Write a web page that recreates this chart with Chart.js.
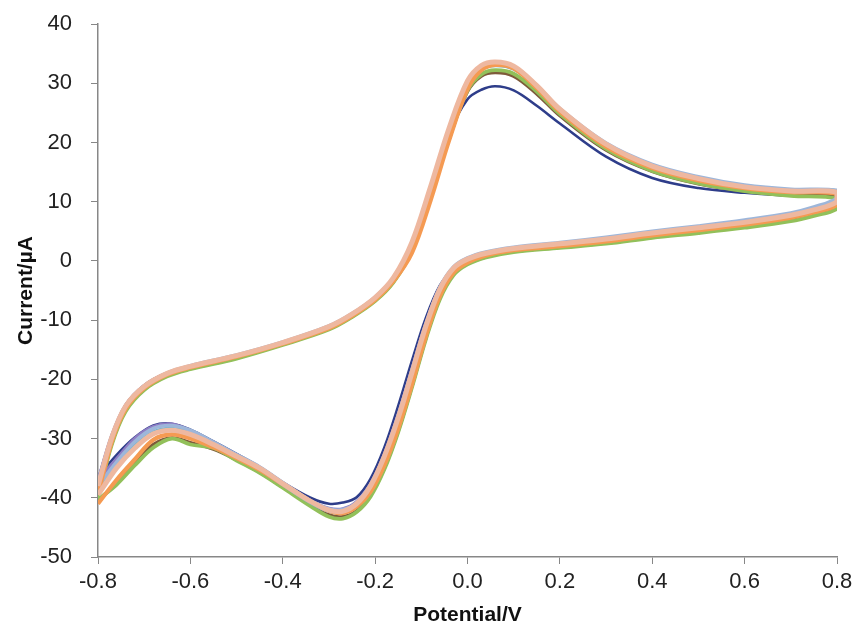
<!DOCTYPE html>
<html>
<head>
<meta charset="utf-8">
<script src="https://cdn.jsdelivr.net/npm/chart.js@4/dist/chart.umd.min.js"></script>
<style>
html,body{margin:0;padding:0;background:#fff;}
#wrap{width:861px;height:643px;position:relative;}
</style>
</head>
<body>
<div id="wrap"><canvas id="c" width="861" height="643"></canvas></div>
<script>
// Potential (V): forward scan then reverse scan
const potential = [
  -0.8, -0.77, -0.74, -0.7, -0.65, -0.6, -0.5, -0.4, -0.3, -0.25, -0.2, -0.16, -0.12, -0.08, -0.04, 0.0, 0.03, 0.06, 0.1, 0.15, 0.2, 0.3, 0.4, 0.5, 0.6, 0.7, 0.8,
  0.8, 0.75, 0.7, 0.6, 0.5, 0.4, 0.3, 0.2, 0.1, 0.04, 0.0, -0.03, -0.06, -0.09, -0.12, -0.15, -0.18, -0.21, -0.24, -0.27, -0.3, -0.34, -0.4, -0.45, -0.5, -0.55, -0.6, -0.64, -0.68, -0.72, -0.76, -0.8
];

// Current (µA) for each scan
const scanNavy = [
  -37.0, -29.5, -24.3, -21.0, -18.9, -17.8, -16.1, -13.9, -11.3, -9.2, -6.4, -3.0, 2.8, 12.0, 21.5, 27.3, 28.9, 29.5, 28.8, 26.2, 23.2, 17.6, 14.0, 12.3, 11.5, 11.0, 10.9,
  9.8, 8.4, 7.5, 6.3, 5.4, 4.5, 3.5, 2.7, 2.0, 1.2, 0.2, -1.3, -4.2, -9.6, -16.8, -24.5, -31.5, -36.8, -39.9, -40.8, -41.0, -40.0, -37.4, -34.8, -32.6, -30.5, -28.5, -27.5, -27.8, -29.8, -32.8, -36.5
];
const scanBrown = [
  -39.5, -30.8, -25.2, -21.7, -19.4, -18.2, -16.4, -14.1, -11.5, -9.4, -6.7, -3.5, 1.9, 10.9, 20.7, 28.6, 31.2, 31.8, 31.2, 28.2, 24.5, 18.7, 15.1, 13.0, 11.8, 11.1, 10.8,
  9.0, 7.8, 6.9, 5.8, 4.9, 4.0, 3.0, 2.3, 1.6, 0.7, -0.5, -2.2, -6.3, -13.0, -21.1, -28.7, -35.0, -39.6, -42.2, -43.2, -42.9, -41.2, -38.2, -35.7, -33.6, -31.8, -30.7, -29.9, -31.0, -34.0, -37.5, -40.5
];
const scanGreen = [
  -40.0, -31.0, -25.4, -21.8, -19.5, -18.3, -16.5, -14.2, -11.6, -9.5, -6.8, -3.6, 1.8, 10.8, 20.6, 28.8, 31.5, 32.2, 31.6, 28.6, 24.8, 18.9, 15.2, 13.1, 11.8, 11.0, 10.5,
  8.8, 7.6, 6.7, 5.6, 4.7, 3.9, 2.9, 2.2, 1.5, 0.6, -0.6, -2.4, -6.5, -13.2, -21.3, -28.9, -35.2, -39.8, -42.4, -43.5, -43.2, -41.4, -38.3, -35.8, -33.7, -31.6, -31.0, -30.0, -31.5, -34.5, -37.8, -40.3
];
const scanPurple = [
  -37.2, -29.5, -24.4, -21.1, -19.0, -17.8, -16.0, -13.9, -11.2, -9.1, -6.3, -2.9, 3.0, 12.2, 22.0, 30.0, 32.7, 33.3, 32.6, 29.3, 25.3, 19.5, 15.9, 13.8, 12.4, 11.8, 11.6,
  10.0, 8.6, 7.7, 6.5, 5.6, 4.7, 3.7, 2.9, 2.1, 1.3, 0.3, -1.2, -4.6, -10.6, -18.3, -26.0, -32.7, -37.7, -40.7, -41.9, -41.8, -40.5, -37.5, -34.9, -32.8, -30.7, -28.7, -27.6, -28.0, -30.0, -33.5, -37.0
];
const scanCyan = [
  -38.0, -30.0, -24.7, -21.3, -19.1, -17.9, -16.1, -13.9, -11.2, -9.1, -6.3, -3.0, 2.6, 11.8, 21.6, 29.6, 32.3, 33.0, 32.4, 29.4, 25.5, 19.7, 16.1, 14.0, 12.6, 11.9, 11.8,
  10.3, 8.9, 7.9, 6.7, 5.7, 4.8, 3.8, 2.9, 2.1, 1.3, 0.3, -1.4, -5.2, -11.6, -19.4, -27.1, -33.5, -38.4, -41.3, -42.5, -42.3, -40.8, -37.8, -35.2, -33.1, -31.1, -29.2, -28.3, -28.9, -31.2, -34.8, -38.5
];
const scanLightBlue = [
  -37.5, -29.6, -24.4, -21.1, -18.9, -17.7, -15.9, -13.7, -11.0, -8.9, -6.1, -2.8, 3.1, 12.3, 22.1, 30.1, 32.8, 33.4, 32.8, 29.6, 25.7, 19.9, 16.3, 14.2, 12.8, 12.1, 11.9,
  10.6, 9.1, 8.1, 6.9, 5.9, 5.0, 4.0, 3.1, 2.3, 1.5, 0.5, -1.0, -4.5, -10.6, -18.4, -26.1, -32.8, -37.8, -40.8, -42.0, -41.9, -40.5, -37.4, -34.8, -32.7, -30.6, -28.6, -27.8, -28.3, -30.5, -34.0, -38.0
];
const scanOrange = [
  -39.5, -30.5, -25.0, -21.5, -19.2, -18.0, -16.2, -14.0, -11.4, -9.3, -6.6, -3.4, 1.4, 10.2, 20.3, 29.0, 32.2, 33.1, 32.5, 29.2, 25.2, 19.3, 15.7, 13.6, 12.3, 11.6, 11.3,
  9.5, 8.2, 7.3, 6.1, 5.2, 4.3, 3.3, 2.5, 1.8, 0.9, -0.3, -2.0, -6.0, -12.7, -20.8, -28.3, -34.5, -39.0, -41.5, -42.6, -42.2, -40.6, -37.7, -35.3, -33.3, -31.5, -30.0, -29.3, -30.2, -33.5, -37.0, -41.0
];
const scanPeach = [
  -38.0, -29.8, -24.5, -21.2, -19.0, -17.8, -16.0, -13.8, -11.1, -9.0, -6.2, -2.8, 3.2, 12.5, 22.4, 30.4, 33.0, 33.6, 32.9, 29.6, 25.6, 19.7, 16.0, 13.9, 12.5, 11.8, 11.6,
  10.0, 8.6, 7.7, 6.5, 5.6, 4.7, 3.7, 2.9, 2.1, 1.3, 0.3, -1.2, -4.8, -11.0, -18.8, -26.5, -33.0, -38.0, -41.0, -42.3, -42.1, -40.6, -37.6, -35.0, -33.0, -31.0, -29.3, -28.6, -29.2, -31.6, -35.0, -39.5
];

const xTicks = [-0.8, -0.6, -0.4, -0.2, 0.0, 0.2, 0.4, 0.6, 0.8];
const yTicks = [-50, -40, -30, -20, -10, 0, 10, 20, 30, 40];

// bottom -> top drawing order
const seriesList = [
  {values: scanNavy, color: '#2E3D8A', width: 2.6},
  {values: scanBrown, color: '#7E5A3A', width: 3.4},
  {values: scanGreen, color: '#92C05A', width: 3.8},
  {values: scanPurple, color: '#8E7CC3', width: 3.6},
  {values: scanCyan, color: '#6FB7CC', width: 3.6},
  {values: scanLightBlue, color: '#9DB6DA', width: 3.6},
  {values: scanOrange, color: '#F59A52', width: 4.2},
  {values: scanPeach, color: '#EEB8A0', width: 5}
];

const datasets = seriesList.map((s, i) => ({
  data: potential.map((p, k) => ({x: p, y: s.values[k]})),
  borderColor: s.color,
  borderWidth: s.width,
  showLine: true,
  pointRadius: 0,
  tension: 0.35,
  fill: false,
  order: seriesList.length - i
}));

const axisColor = '#878787';
const tickFont = {family: "'Liberation Sans', sans-serif", size: 22};
const titleFont = {family: "'Liberation Sans', sans-serif", size: 21, weight: 'bold'};

new Chart(document.getElementById('c'), {
  type: 'scatter',
  data: {datasets},
  options: {
    responsive: false,
    animation: false,
    devicePixelRatio: 1,
    layout: {padding: {left: 10, top: 24, right: 24, bottom: 11}},
    plugins: {legend: {display: false}, tooltip: {enabled: false}},
    scales: {
      x: {
        type: 'linear', min: -0.8, max: 0.8,
        afterBuildTicks: (s) => { s.ticks = xTicks.map(v => ({value: v})); },
        afterFit: (s) => { s.height = 75; s.paddingLeft = 0; s.paddingRight = 0; },
        ticks: {color: '#222', font: tickFont, padding: 5, callback: v => Number(v).toFixed(1), maxRotation: 0},
        grid: {display: true, drawOnChartArea: false, drawTicks: true, tickLength: 7, color: axisColor},
        border: {display: true, color: axisColor, width: 1.5},
        title: {display: true, text: 'Potential/V', color: '#111', font: titleFont, padding: {top: 4, bottom: 4}}
      },
      y: {
        type: 'linear', min: -50, max: 40,
        afterBuildTicks: (s) => { s.ticks = yTicks.map(v => ({value: v})); },
        afterFit: (s) => { s.width = 88; s.paddingTop = 0; s.paddingBottom = 0; },
        ticks: {color: '#222', font: tickFont, padding: 19},
        grid: {display: true, drawOnChartArea: false, drawTicks: true, tickLength: 7, color: axisColor},
        border: {display: true, color: axisColor, width: 1.5},
        title: {display: true, text: 'Current/µA', color: '#111', font: titleFont, padding: {top: 4, bottom: 4}}
      }
    }
  }
});
</script>
</body>
</html>
